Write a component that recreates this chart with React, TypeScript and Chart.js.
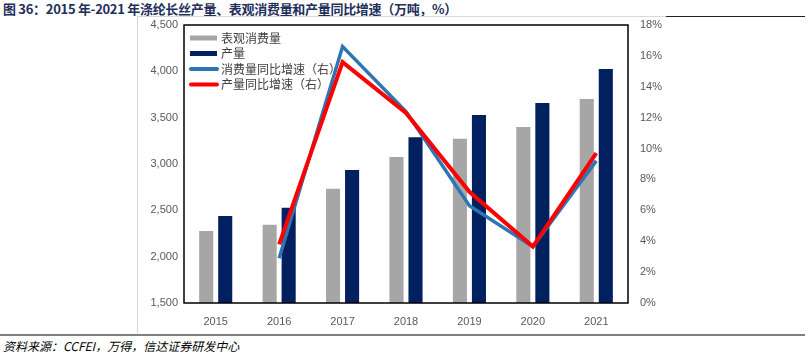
import React, { useEffect, useRef } from "react";
import { Chart, registerables } from "chart.js";

Chart.register(...registerables);

const years = ["2015", "2016", "2017", "2018", "2019", "2020", "2021"];
const consumption = [2277, 2345, 2733, 3076, 3273, 3399, 3701];
const production = [2439, 2528, 2935, 3288, 3529, 3658, 4025];
const consumptionGrowth = [null, 2.9, 16.6, 12.4, 6.3, 3.65, 9.2];
const productionGrowth = [null, 3.8, 15.6, 12.3, 7.2, 3.65, 9.7];
const leftTicks = [1500, 2000, 2500, 3000, 3500, 4000, 4500];
const rightTicks = [0, 2, 4, 6, 8, 10, 12, 14, 16, 18];

const FONT = "'Liberation Sans', 'Noto Sans CJK SC', sans-serif";

const frameAndLegend = {
  id: "frameAndLegend",
  afterDatasetsDraw(chart: any) {
    const { ctx, chartArea } = chart;
    ctx.save();
    ctx.strokeStyle = "#000000";
    ctx.lineWidth = 1.5;
    ctx.strokeRect(chartArea.left, chartArea.top, chartArea.right - chartArea.left, chartArea.bottom - chartArea.top);
    ctx.restore();
  },
  afterDraw(chart: any) {
    const { ctx, chartArea } = chart;
    ctx.save();
    const x0 = chartArea.left + 6;
    const y0 = chartArea.top + 13;
    const step = 15.5;
    ctx.font = "12px 'Noto Sans CJK SC', sans-serif";
    ctx.textBaseline = "middle";
    chart.data.datasets.forEach((ds: any, i: number) => {
      const y = y0 + i * step;
      const color = ds.type === "line" ? ds.borderColor : ds.backgroundColor;
      ctx.strokeStyle = color;
      ctx.lineWidth = ds.type === "line" ? 4 : 5;
      ctx.lineCap = ds.type === "line" ? "round" : "butt";
      ctx.beginPath();
      ctx.moveTo(x0 + (ds.type === "line" ? 1 : 0), y);
      ctx.lineTo(x0 + 27, y);
      ctx.stroke();
      ctx.fillStyle = "#404040";
      ctx.fillText(ds.label, x0 + 31, y);
    });
    ctx.restore();
  },
};

function ChartView() {
  const ref = useRef<HTMLCanvasElement>(null);
  useEffect(() => {
    if (!ref.current) return;
    const chart = new Chart(ref.current, {
      type: "bar",
      data: {
        labels: years,
        datasets: [
          {
            type: "bar",
            label: "表观消费量",
            data: consumption,
            backgroundColor: "#A6A6A6",
            yAxisID: "y",
            order: 3,
            categoryPercentage: 0.6,
            barPercentage: 0.74,
          },
          {
            type: "bar",
            label: "产量",
            data: production,
            backgroundColor: "#002060",
            yAxisID: "y",
            order: 4,
            categoryPercentage: 0.6,
            barPercentage: 0.74,
          },
          {
            type: "line",
            label: "消费量同比增速（右）",
            data: consumptionGrowth,
            borderColor: "#2E75B6",
            backgroundColor: "#2E75B6",
            borderWidth: 3.5,
            pointRadius: 0,
            tension: 0,
            yAxisID: "y1",
            order: 2,
          },
          {
            type: "line",
            label: "产量同比增速（右）",
            data: productionGrowth,
            borderColor: "#FF0000",
            backgroundColor: "#FF0000",
            borderWidth: 4,
            pointRadius: 0,
            tension: 0,
            yAxisID: "y1",
            order: 1,
          },
        ] as any,
      },
      options: {
        animation: false,
        responsive: false,
        maintainAspectRatio: false,
        layout: { padding: { top: 8, left: 0, right: 0, bottom: 0 } },
        plugins: {
          legend: { display: false },
          tooltip: { enabled: false },
        },
        scales: {
          x: {
            grid: { display: false, drawTicks: false },
            border: { display: false },
            ticks: {
              color: "#595959",
              font: { family: FONT, size: 11 },
              padding: 12,
            },
            afterFit: (s: any) => {
              s.height = 31;
            },
          },
          y: {
            position: "left",
            min: 1500,
            max: 4500,
            grid: { display: false, drawTicks: false },
            border: { display: false },
            afterBuildTicks: (s: any) => {
              s.ticks = leftTicks.map((v) => ({ value: v }));
            },
            ticks: {
              color: "#595959",
              font: { family: FONT, size: 11 },
              padding: 6,
              callback: (v: any) => Number(v).toLocaleString("en-US"),
            },
            afterFit: (s: any) => {
              s.width = 47;
              s.paddingTop = 0;
              s.paddingBottom = 0;
            },
          },
          y1: {
            position: "right",
            min: 0,
            max: 18,
            grid: { display: false, drawTicks: false },
            border: { display: false },
            afterBuildTicks: (s: any) => {
              s.ticks = rightTicks.map((v) => ({ value: v }));
            },
            ticks: {
              color: "#595959",
              font: { family: FONT, size: 11 },
              padding: 12,
              callback: (v: any) => `${v}%`,
            },
            afterFit: (s: any) => {
              s.width = 39;
              s.paddingTop = 0;
              s.paddingBottom = 0;
            },
          },
        },
      } as any,
      plugins: [frameAndLegend],
    });
    return () => chart.destroy();
  }, []);
  return <canvas ref={ref} width={530} height={317} style={{ position: "absolute", left: 137, top: 17, width: 530, height: 317 }} />;
}

export default function App() {
  return (
    <div style={{ position: "fixed", left: 0, top: 0, width: 810, height: 359, background: "#fff", overflow: "hidden" }}>
      <div
        style={{
          position: "absolute",
          left: 3,
          top: 0,
          height: 17,
          lineHeight: "17px",
          fontFamily: "'Noto Sans CJK SC', sans-serif",
          fontWeight: 700,
          fontSize: 13,
          color: "#1F2F5C",
          whiteSpace: "nowrap",
          letterSpacing: -0.3,
        }}
      >
        图 36：2015 年-2021 年涤纶长丝产量、表观消费量和产量同比增速（万吨，%）
      </div>
      <div style={{ position: "absolute", left: 137, top: 16, width: 529, height: 1, background: "#D9D9D9" }} />
      <div style={{ position: "absolute", left: 666, top: 16, width: 139, height: 1, background: "#222" }} />
      <div style={{ position: "absolute", left: 137, top: 16, width: 1, height: 318, background: "#D9D9D9" }} />
      <ChartView />
      <div style={{ position: "absolute", left: 0, top: 334, width: 805, height: 1.5, background: "#7F7F7F" }} />
      <div
        style={{
          position: "absolute",
          left: 3,
          top: 337,
          fontFamily: "'Noto Sans CJK SC', sans-serif",
          fontStyle: "italic",
          fontSize: 12,
          color: "#000",
          whiteSpace: "nowrap",
        }}
      >
        资料来源：CCFEI，万得，信达证券研发中心
      </div>
    </div>
  );
}
